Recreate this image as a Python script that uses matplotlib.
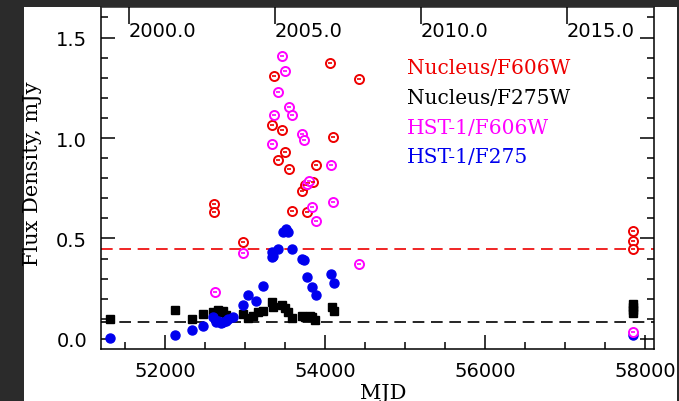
import matplotlib.pyplot as plt
from matplotlib.patches import Rectangle
from matplotlib.ticker import MultipleLocator

# Nucleus / F606W (red open circles)
nuc606_mjd = [52616, 52616, 52971, 53341, 53366, 53416, 53459, 53500, 53550, 53584,
              53709, 53750, 53779, 53791, 53854, 53884, 54062, 54104, 54429,
              57854, 57854, 57854]
nuc606_flux = [0.672, 0.630, 0.481, 1.066, 1.307, 0.892, 1.040, 0.932, 0.845, 0.638,
               0.738, 0.766, 0.633, 0.776, 0.783, 0.866, 1.373, 1.006, 1.294,
               0.536, 0.486, 0.448]

# Nucleus / F275W (black squares)
nuc275_mjd = [51312, 52121, 52334, 52479, 52604, 52640, 52667, 52687, 52725, 52760,
              52979, 53041, 53104, 53166, 53229, 53333, 53346, 53459, 53500, 53541,
              53591, 53709, 53750, 53810, 53834, 53875, 54084, 54109,
              57854, 57854, 57854, 57854]
nuc275_flux = [0.100, 0.146, 0.100, 0.124, 0.136, 0.128, 0.146, 0.136, 0.140, 0.120,
               0.124, 0.103, 0.116, 0.133, 0.141, 0.186, 0.157, 0.169, 0.153, 0.136,
               0.103, 0.116, 0.108, 0.116, 0.110, 0.095, 0.158, 0.141,
               0.174, 0.158, 0.142, 0.128]

# HST-1 / F606W (magenta open circles)
hst606_mjd = [52625, 52971, 53341, 53366, 53416, 53459, 53500, 53550, 53591, 53709,
              53737, 53770, 53800, 53834, 53888, 54071, 54104, 54429, 57854]
hst606_flux = [0.235, 0.426, 0.970, 1.114, 1.227, 1.406, 1.335, 1.153, 1.116, 1.020,
               0.990, 0.771, 0.785, 0.655, 0.589, 0.866, 0.680, 0.373, 0.033]

# HST-1 / F275 (blue filled circles)
hst275_mjd = [51312, 52121, 52334, 52479, 52604, 52640, 52667, 52700, 52729, 52760,
              52792, 52854, 52979, 53041, 53137, 53221, 53334, 53334, 53346, 53416,
              53471, 53509, 53541, 53591, 53709, 53741, 53771, 53834, 53887, 54075,
              54109, 57854]
hst275_flux = [0.003, 0.021, 0.045, 0.066, 0.108, 0.085, 0.091, 0.078, 0.083, 0.088,
               0.100, 0.111, 0.169, 0.219, 0.190, 0.265, 0.431, 0.406, 0.414, 0.448,
               0.531, 0.547, 0.531, 0.448, 0.398, 0.393, 0.307, 0.257, 0.220, 0.323,
               0.277, 0.020]

nuc606_mean = 0.45
nuc275_mean = 0.085

year_labels = ['2000.0', '2005.0', '2010.0', '2015.0']
year_mjd = [51544, 53371, 55197, 57023]

legend_labels = ['Nucleus/F606W', 'Nucleus/F275W', 'HST-1/F606W', 'HST-1/F275']
legend_colors = ['#ee0000', 'black', '#ff00ff', '#0000ee']

W, H = 679, 402
fig = plt.figure(figsize=(W / 100, H / 100), dpi=100)
fig.patch.set_facecolor('#2b2b2b')
fig.patches.append(Rectangle((24 / W, 0), (677 - 24) / W, (H - 8) / H,
                             transform=fig.transFigure, facecolor='white',
                             edgecolor='none', zorder=-5))

ax = fig.add_axes([101 / W, 1 - 350 / H, (654 - 101) / W, (350 - 8) / H])
ax.patch.set_alpha(0)
ax.set_xlim(51200, 58112)
ax.set_ylim(-0.05, 1.652)

# mean levels
ax.axhline(nuc606_mean, color=legend_colors[0], lw=1.2, dashes=(7, 4), zorder=1)
ax.axhline(nuc275_mean, color='black', lw=1.2, dashes=(7, 4), zorder=1)

ax.plot(nuc275_mjd, nuc275_flux, 's', color='black', ms=5.2, zorder=3)
ax.plot(hst275_mjd, hst275_flux, 'o', color=legend_colors[3], ms=6.5, zorder=3)
for xs, ys, c in [(nuc606_mjd, nuc606_flux, legend_colors[0]),
                  (hst606_mjd, hst606_flux, legend_colors[2])]:
    ax.plot(xs, ys, 'o', mfc='white', mec=c, mew=1.4, ms=6.5, zorder=4)
    ax.plot(xs, ys, '_', color=c, ms=3.5, mew=1.2, zorder=5)

ax.xaxis.set_major_locator(MultipleLocator(2000))
ax.xaxis.set_minor_locator(MultipleLocator(500))
ax.yaxis.set_major_locator(MultipleLocator(0.5))
ax.yaxis.set_minor_locator(MultipleLocator(0.1))
ax.yaxis.set_major_formatter(plt.FormatStrFormatter('%.1f'))
ax.tick_params(which='both', direction='in', top=True, right=True, width=1.1,
               labelsize=14, color='black')
ax.tick_params(which='major', length=10)
ax.tick_params(which='minor', length=5)
ax.tick_params(axis='y', pad=10)
ax.tick_params(axis='x', pad=9)
for s in ax.spines.values():
    s.set_linewidth(1.1)
ax.spines['top'].set_color('#2b2b2b')

# year axis along the top, labels inside the frame
ax2 = ax.twiny()
ax2.patch.set_alpha(0)
ax2.set_xlim(ax.get_xlim())
ax2.set_xticks(year_mjd)
ax2.set_xticklabels(year_labels)
ax2.tick_params(axis='x', direction='in', length=12, width=1.1, labelsize=14, pad=-24)
for lab in ax2.get_xticklabels():
    lab.set_horizontalalignment('left')
for s in ax2.spines.values():
    s.set_visible(False)

fig.text(33 / W, 1 - 174 / H, 'Flux Density, mJy', family='DejaVu Serif',
         fontsize=15, rotation=90, ha='center', va='center')
fig.text(383 / W, 1 - 384 / H, 'MJD', family='DejaVu Serif', fontsize=15,
         ha='center', va='top')

for i, (lab, c) in enumerate(zip(legend_labels, legend_colors)):
    fig.text(407 / W, 1 - (68 + 30 * i) / H, lab, color=c,
             family='DejaVu Serif', fontsize=14.5, ha='left', va='center')

fig.savefig('out.png', dpi=100, facecolor=fig.get_facecolor())
